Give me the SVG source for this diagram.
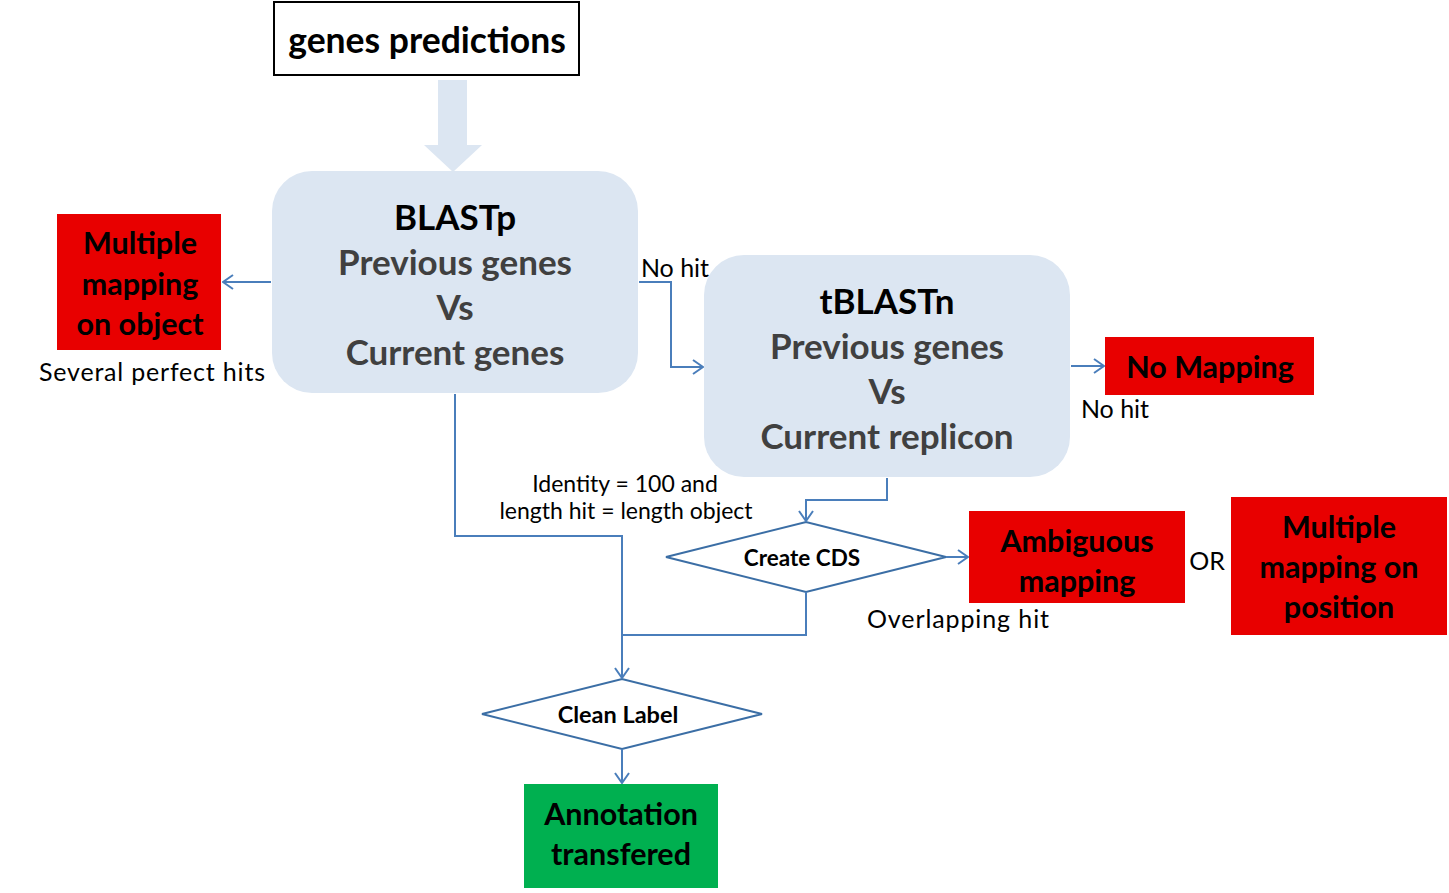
<svg xmlns="http://www.w3.org/2000/svg" width="1449" height="893" viewBox="0 0 1449 893">
<defs>
<style>
.t{font-family:Lato,"Open Sans","Liberation Sans",sans-serif;text-anchor:middle;dominant-baseline:central}
.b{font-weight:bold}
.big{font-size:35px;font-weight:bold}
.red{fill:#e80000}
.rt{font-size:30.5px;font-weight:bold;fill:#000}
.lbl{font-size:25px;fill:#000}
.con{fill:none;stroke:#4a7ebb;stroke-width:2}
.dia{fill:#fff;stroke:#3b6ea5;stroke-width:2}
</style>
<marker id="ah" viewBox="0 0 12 16" refX="11" refY="8" markerWidth="12" markerHeight="16" markerUnits="userSpaceOnUse" orient="auto">
<path d="M1,1 L11,8 L1,15" fill="none" stroke="#4a7ebb" stroke-width="2"/>
</marker>
</defs>
<rect width="1449" height="893" fill="#fff"/>

<g id="genes-predictions">
<rect x="274" y="2" width="305" height="73" fill="#fff" stroke="#000" stroke-width="2"/>
<text class="t b" x="427" y="39" font-size="35.5">genes predictions</text>
</g>

<g id="block-arrow">
<polygon points="438,80 467,80 467,145 482,145 453,172 424,145 438,145" fill="#dce6f2"/>
</g>

<g id="blastp">
<rect x="272" y="171" width="366" height="222" rx="40" fill="#dce6f2"/>
<text class="t big" x="455" y="216" fill="#000">BLASTp</text>
<text class="t big" x="455" y="261" fill="#404040">Previous genes</text>
<text class="t big" x="455" y="306" fill="#404040">Vs</text>
<text class="t big" x="455" y="351" fill="#404040">Current genes</text>
</g>

<g id="tblastn">
<rect x="704" y="255" width="366" height="222" rx="40" fill="#dce6f2"/>
<text class="t big" x="887" y="300" fill="#000">tBLASTn</text>
<text class="t big" x="887" y="345" fill="#404040">Previous genes</text>
<text class="t big" x="887" y="390" fill="#404040">Vs</text>
<text class="t big" x="887" y="435" fill="#404040">Current replicon</text>
</g>

<g id="multiple-mapping-object">
<rect class="red" x="57" y="214" width="164" height="136"/>
<text class="t rt" x="140" y="242">Multiple</text>
<text class="t rt" x="140" y="283">mapping</text>
<text class="t rt" x="140" y="323">on object</text>
</g>

<g id="no-mapping">
<rect class="red" x="1105" y="337" width="209" height="58"/>
<text class="t rt" x="1210" y="366">No Mapping</text>
</g>

<g id="ambiguous-mapping">
<rect class="red" x="969" y="511" width="216" height="92"/>
<text class="t rt" x="1077" y="540">Ambiguous</text>
<text class="t rt" x="1077" y="580">mapping</text>
</g>

<g id="multiple-mapping-position">
<rect class="red" x="1231" y="497" width="216" height="138"/>
<text class="t rt" x="1339" y="526">Multiple</text>
<text class="t rt" x="1339" y="566">mapping on</text>
<text class="t rt" x="1339" y="606">position</text>
</g>

<g id="create-cds">
<polygon class="dia" points="666,557 806,522 946,557 806,592"/>
<text class="t b" x="802" y="557" font-size="22.5">Create CDS</text>
</g>

<g id="clean-label">
<polygon class="dia" points="482,714 622,679 762,714 622,749"/>
<text class="t b" x="618" y="714" font-size="23.5">Clean Label</text>
</g>

<g id="annotation-transfered">
<rect x="524" y="784" width="194" height="104" fill="#00b050"/>
<text class="t rt" x="621" y="813">Annotation</text>
<text class="t rt" x="621" y="853">transfered</text>
</g>

<g id="connectors">
<path class="con" d="M271,282 L223,282" marker-end="url(#ah)"/>
<path class="con" d="M639,282 L671,282 L671,367 L703,367" marker-end="url(#ah)"/>
<path class="con" d="M1071,366 L1104,366" marker-end="url(#ah)"/>
<path class="con" d="M887,478 L887,500 L806,500 L806,521" marker-end="url(#ah)"/>
<path class="con" d="M946,557 L968,557" marker-end="url(#ah)"/>
<path class="con" d="M455,394 L455,536 L622,536 L622,678" marker-end="url(#ah)"/>
<path class="con" d="M806,592 L806,635 L622,635"/>
<path class="con" d="M622,749 L622,783" marker-end="url(#ah)"/>
</g>

<g id="labels">
<text class="t lbl" x="152" y="371" textLength="226" lengthAdjust="spacing">Several perfect hits</text>
<text class="t lbl" x="675" y="267">No hit</text>
<text class="t lbl" x="1115" y="408">No hit</text>
<text class="t" x="625" y="483" font-size="23">Identity = 100 and</text>
<text class="t" x="626" y="510" font-size="23">length hit = length object</text>
<text class="t lbl" x="1207" y="560">OR</text>
<text class="t lbl" x="958" y="618" textLength="182" lengthAdjust="spacing">Overlapping hit</text>
</g>
</svg>
